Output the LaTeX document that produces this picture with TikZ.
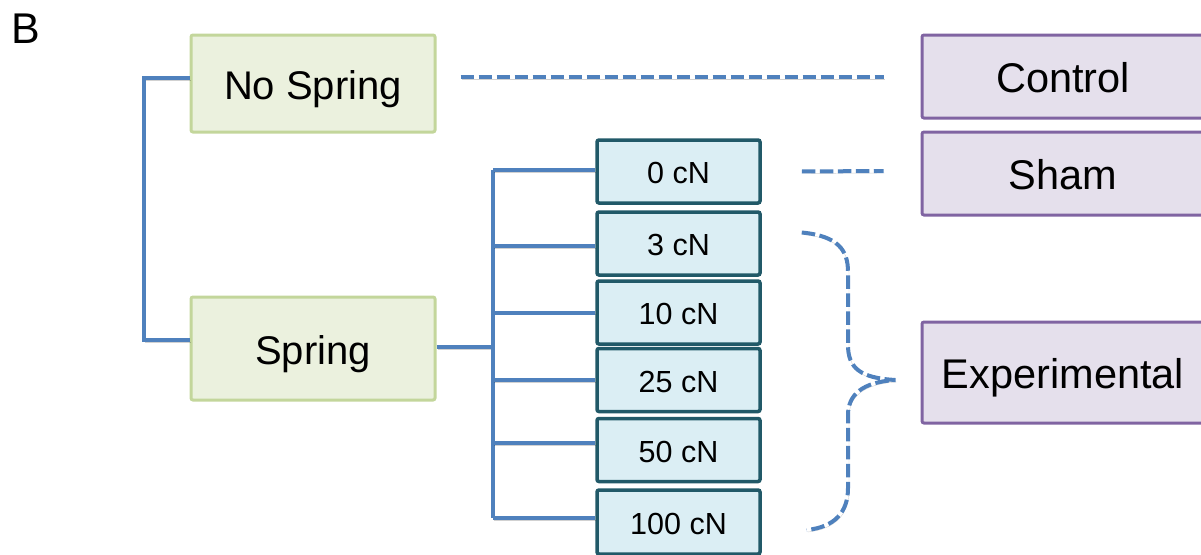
\documentclass[tikz,border=0pt]{standalone}
\usepackage{fontspec}
\setmainfont{Liberation Sans}
\definecolor{treeblue}{HTML}{4F81BD}
\definecolor{grpfill}{HTML}{EBF1DE}
\definecolor{grpline}{HTML}{C3D69B}
\definecolor{lvlfill}{HTML}{DBEEF4}
\definecolor{lvlline}{HTML}{215968}
\definecolor{armfill}{HTML}{E5E0EC}
\definecolor{armline}{HTML}{8064A2}
\tikzset{
  grpbox/.style={inner sep=0pt, text height=32.6pt, text depth=0pt,
    draw=grpline, fill=grpfill, line width=3pt, rounded corners=2pt,
    minimum width=244pt, font=\fontsize{40}{48}\selectfont},
  lvlbox/.style={inner sep=0pt, text height=24.8pt, text depth=0pt,
    draw=lvlline, fill=lvlfill, line width=3.5pt, rounded corners=2pt,
    minimum width=163pt, minimum height=63pt, font=\fontsize{30.5}{36}\selectfont},
  armbox/.style={inner sep=0pt, text height=32.7pt, text depth=0pt,
    draw=armline, fill=armfill, line width=3pt, rounded corners=2pt,
    minimum width=282pt, font=\fontsize{41.5}{50}\selectfont},
  softshadow/.style={preaction={draw=black, draw opacity=0.18,
    transform canvas={shift={(1pt,-2pt)}}}},
  tree/.style={draw=treeblue, line width=4pt, softshadow},
  link/.style={draw=treeblue, line width=4pt, dash pattern=on 13.5pt off 4.5pt, softshadow}
}
\begin{document}
\begin{tikzpicture}[x=1pt, y=-1pt]
\useasboundingbox (0,0) rectangle (1201,554);
\clip (0,0) rectangle (1201,554);

% panel letter
\node[anchor=base west, inner sep=0pt, font=\fontsize{43}{52}\selectfont] (lbl) at (11,43) {B};

% spring / no-spring groups
\node[grpbox, minimum height=97pt] (nos) at (313,83.5) {No Spring};
\node[grpbox, minimum height=103pt] (spr) at (313,348.5) {Spring};

% force levels
\node[lvlbox] (c0)   at (678.5,171.5) {0 cN};
\node[lvlbox] (c3)   at (678.5,243.5) {3 cN};
\node[lvlbox] (c10)  at (678.5,312.5) {10 cN};
\node[lvlbox] (c25)  at (678.5,380)   {25 cN};
\node[lvlbox] (c50)  at (678.5,450)   {50 cN};
\node[lvlbox, minimum height=64pt] (c100) at (678.5,522) {100 cN};

% study arms
\node[armbox, minimum height=83pt]  (ctrl) at (1063,76.5)  {Control};
\node[armbox, minimum height=83pt]  (sham) at (1063,173.5) {Sham};
\node[armbox, minimum height=101pt] (expt) at (1063,372.5) {Experimental};

% root bracket joining the two groups
\coordinate (root) at (144,0);
\draw[tree] ([yshift=5.5pt]nos.west) -| (root |- 0,340) -- ([yshift=8.5pt]spr.west);

% branch from Spring to every force level
\coordinate (hub) at (493,347);
\draw[tree] ([yshift=1.5pt]spr.east) -- (hub);
\draw[tree] (hub |- 0,170) -- (hub |- 0,518);
\draw[tree] ([yshift=1.5pt]c0.west) -- ([yshift=1.5pt]c0.west -| hub);
\draw[tree] ([yshift=-2.5pt]c3.west) -- ([yshift=-2.5pt]c3.west -| hub);
\draw[tree] (c10.west) -- (c10.west -| hub);
\draw[tree] (c25.west) -- (c25.west -| hub);
\draw[tree] ([yshift=7pt]c50.west) -- ([yshift=7pt]c50.west -| hub);
\draw[tree] ([yshift=4pt]c100.west) -- ([yshift=4pt]c100.west -| hub);

% dashed links to study arms
\draw[link] ([xshift=24pt,yshift=6.5pt]nos.east) -- ([xshift=-37pt,yshift=-0.5pt]ctrl.west);
\draw[link] ([xshift=40pt]c0.east) -- ([xshift=-37pt,yshift=2.5pt]sham.west);

% dashed brace gathering 3 to 100 cN into the experimental arm
\coordinate (brtop) at ([xshift=40pt,yshift=11pt]c3.east);
\coordinate (brbot) at ([xshift=45pt,yshift=-8pt]c100.east);
\coordinate (brtip) at ([xshift=-25pt,yshift=-7.5pt]expt.west);
\draw[link] (brtop) .. controls (838,236) and (848,250) .. (848,272)
  -- (848,345) .. controls (848,368) and (860,378) .. (brtip)
  .. controls (862,382) and (848,395) .. (848,415)
  -- (848,488) .. controls (848,512) and (835,527) .. (brbot);
\end{tikzpicture}
\end{document}
